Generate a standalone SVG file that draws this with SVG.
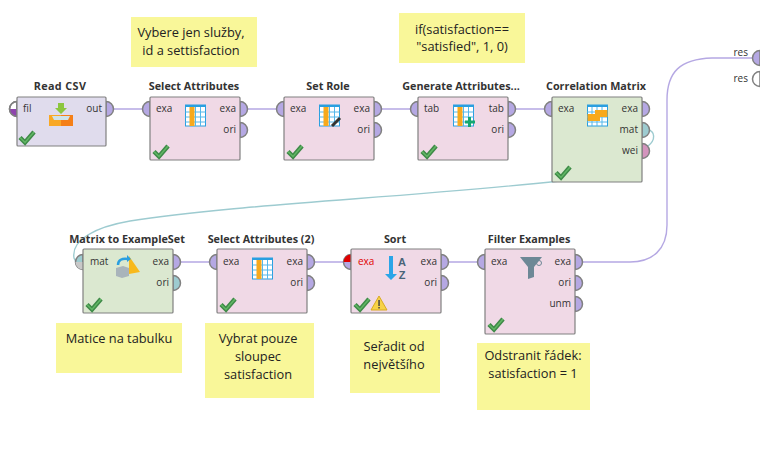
<svg xmlns="http://www.w3.org/2000/svg" width="760" height="452" viewBox="0 0 760 452">
<style>
text{font-family:"Open Sans","Noto Sans","Liberation Sans",sans-serif}
.t{font-size:10.800px;font-weight:700;fill:#333;text-anchor:middle}
.p{font-size:10px;fill:#333}
.r{text-anchor:end}
.n{font-size:12.800px;fill:#222;text-anchor:middle}
.az{font-family:"Liberation Sans",sans-serif;font-size:11px;font-weight:700;fill:#4a6478;text-anchor:middle}
.note{fill:#f9f799}
.pink{fill:#f0d9e6;stroke:#808080;stroke-width:1.2}
.green{fill:#dbe8d0;stroke:#808080;stroke-width:1.2}
.lav{fill:#e0dced;stroke:#808080;stroke-width:1.2}
.po{stroke:#808080;stroke-width:1.5}
.a{fill:#b5a8e3}.b{fill:#9dcbd0}.c{fill:#d394bd}
.l{fill:none;stroke-width:1.4}
.la{stroke:#b5a8e3}.lb{stroke:#9dcbd0}
.ck{fill:none;stroke-linejoin:miter}
</style>
<defs>
<g id="check"><path class="ck" stroke="#3f8a48" stroke-width="4.500" d="M1 7.500 L6 12.500 L15 2"/><path class="ck" stroke="#62b765" stroke-width="1.500" d="M1 7.500 L6 12.500 L15 2"/></g>
<g id="tbl"><rect width="20" height="21" fill="#fff" stroke="#2a9fe0"/><rect width="20" height="2" fill="#2a9fe0"/><path d="M5 2V21M10 2V21M15 2V21M0 7H20M0 12H20M0 17H20" stroke="#55b7ea" stroke-width="1"/><rect x="4" y="2" width="5" height="19" fill="#f8a91c"/></g>
<path id="pr" d="M0 -7.500A7.500 7.500 0 0 1 0 7.500Z"/>
<path id="pl" d="M0 -7.500A7.500 7.500 0 0 0 0 7.500Z"/>
</defs>
<g id="connectors">
<path class="l la" d="M114 109H143M248 109H277M382 109H411M516 109H545M181 262H210M315 262H344M449 262H478"/>
<path class="l la" d="M582 262H630C652 262 667 250 667 225V100C667 72 680 59 712 58L752 58"/>
<path class="l lb" d="M648 130C655 131 656 140 648 146"/>
<path class="l lb" d="M560 181C400 198 230 205 130 221C95 227 71 240 74 258L76 262"/>
</g>
<g id="note1"><rect class="note" x="131" y="17" width="126" height="50"/><text class="n" x="191" y="37">Vybere jen služby,</text><text class="n" x="191" y="55">id a settisfaction</text></g>
<g id="note2"><rect class="note" x="399" y="13" width="126" height="50"/><text class="n" x="462" y="34">if(satisfaction==</text><text class="n" x="462" y="51">"satisfied", 1, 0)</text></g>
<g id="note3"><rect class="note" x="56" y="323" width="126" height="50"/><text class="n" x="119" y="343">Matice na tabulku</text></g>
<g id="note4"><rect class="note" x="205" y="323" width="109" height="75"/><text class="n" x="258" y="343">Vybrat pouze</text><text class="n" x="258" y="361">sloupec</text><text class="n" x="258" y="379">satisfaction</text></g>
<g id="note5"><rect class="note" x="350" y="330" width="90" height="63"/><text class="n" x="394" y="351">Seřadit od</text><text class="n" x="394" y="369">největšího</text></g>
<g id="note6"><rect class="note" x="477" y="343" width="113" height="67"/><text class="n" x="533" y="360">Odstranit řádek:</text><text class="n" x="533" y="378">satisfaction = 1</text></g>

<g id="read-csv">
<use href="#pl" x="17" y="109" class="po" fill="#fff"/><path d="M9.500 109A7.500 7.500 0 0 0 17 116.500V109Z" fill="#8e44ad"/><use href="#pl" x="17" y="109" class="po" fill="none"/>
<use href="#pr" x="106" y="109" class="po a"/>
<rect class="lav" x="17" y="97" width="89" height="49" rx="1"/>
<text class="t" x="60" y="90" style="letter-spacing:.4px">Read CSV</text><text class="p" x="23" y="112">fil</text><text class="p r" x="102" y="112">out</text>
<path d="M58 103H64V108H67L61 114L55 108H58Z" fill="#8cc63f"/><path d="M49 115H73V126H49Z" fill="#f9a825"/><rect x="61" y="115" width="12" height="11" fill="#f57f17"/><path d="M52 116H70L68 120H54Z" fill="#cfe3ea"/>
<use href="#check" x="19" y="130"/>
</g>
<g id="select-attributes">
<use href="#pl" x="150" y="109" class="po a"/><use href="#pr" x="240" y="109" class="po a"/><use href="#pr" x="240" y="130" class="po a"/>
<rect class="pink" x="150" y="97" width="90" height="63" rx="1"/>
<text class="t" x="194" y="90">Select Attributes</text><text class="p" x="156" y="112">exa</text><text class="p r" x="236" y="112">exa</text><text class="p r" x="236" y="133">ori</text>
<use href="#tbl" x="185.500" y="105"/><use href="#check" x="153" y="144"/>
</g>
<g id="set-role">
<use href="#pl" x="284" y="109" class="po a"/><use href="#pr" x="374" y="109" class="po a"/><use href="#pr" x="374" y="130" class="po a"/>
<rect class="pink" x="284" y="97" width="90" height="63" rx="1"/>
<text class="t" x="328" y="90">Set Role</text><text class="p" x="290" y="112">exa</text><text class="p r" x="370" y="112">exa</text><text class="p r" x="370" y="133">ori</text>
<use href="#tbl" x="319.500" y="105"/><path d="M332 126L340 118" stroke="#333" stroke-width="3"/><use href="#check" x="287" y="144"/>
</g>
<g id="generate-attributes">
<use href="#pl" x="418" y="109" class="po a"/><use href="#pr" x="508" y="109" class="po a"/><use href="#pr" x="508" y="130" class="po a"/>
<rect class="pink" x="418" y="97" width="90" height="63" rx="1"/>
<text class="t" x="461" y="90">Generate Attributes...</text><text class="p" x="424" y="112">tab</text><text class="p r" x="504" y="112">tab</text><text class="p r" x="504" y="133">ori</text>
<use href="#tbl" x="453.500" y="105"/><path d="M469.500 117V127M465 122H475" stroke="#16a870" stroke-width="3"/><use href="#check" x="421" y="144"/>
</g>
<g id="correlation-matrix">
<use href="#pl" x="552" y="109" class="po a"/><use href="#pr" x="642" y="109" class="po a"/><use href="#pr" x="642" y="130" class="po b"/><use href="#pr" x="642" y="151" class="po c"/>
<rect class="green" x="552" y="97" width="90" height="85" rx="1"/>
<text class="t" x="596" y="90">Correlation Matrix</text><text class="p" x="558" y="112">exa</text><text class="p r" x="638" y="112">exa</text><text class="p r" x="638" y="133">mat</text><text class="p r" x="638" y="154">wei</text>
<rect x="587.500" y="105" width="20" height="21" fill="#fff" stroke="#2a9fe0"/><rect x="587.500" y="105" width="20" height="2" fill="#2a9fe0"/><path d="M592 107V126M597 107V126M602 107V126M587 112H607M587 117H607M587 122H607" stroke="#55b7ea"/><path d="M587.500 121V114H595V110H607.500V117H600V121Z" fill="#f8a91c"/>
<use href="#check" x="555" y="165"/>
</g>
<g id="matrix-to-exampleset">
<use href="#pl" x="83" y="262" class="po b"/><path d="M75.500 262A7.500 7.500 0 0 0 83 269.500V262Z" fill="#c8c8c8"/><use href="#pr" x="173" y="262" class="po a"/><use href="#pr" x="173" y="283" class="po b"/>
<rect class="green" x="83" y="249" width="90" height="64" rx="1"/>
<text class="t" x="127" y="243">Matrix to ExampleSet</text><text class="p" x="90" y="265">mat</text><text class="p r" x="169" y="265">exa</text><text class="p r" x="169" y="286">ori</text>
<path d="M129 256L140 272L129 274Z" fill="#f8b91c"/><path d="M116 268L123 266L129 268V276L122 278L116 276Z" fill="#a9b4bb"/><path d="M118 265C118 260 122 258 128 259" fill="none" stroke="#2a9fe0" stroke-width="2.500"/><path d="M127 255L131 259L127 262Z" fill="#2a9fe0"/>
<use href="#check" x="86" y="297"/>
</g>
<g id="select-attributes-2">
<use href="#pl" x="217" y="262" class="po a"/><use href="#pr" x="307" y="262" class="po a"/><use href="#pr" x="307" y="283" class="po a"/>
<rect class="pink" x="217" y="249" width="90" height="64" rx="1"/>
<text class="t" x="261" y="243">Select Attributes (2)</text><text class="p" x="223" y="265">exa</text><text class="p r" x="303" y="265">exa</text><text class="p r" x="303" y="286">ori</text>
<use href="#tbl" x="252.500" y="258"/><use href="#check" x="220" y="297"/>
</g>
<g id="sort">
<use href="#pl" x="351" y="262" class="po a"/><path d="M343.500 262A7.500 7.500 0 0 1 351 254.500V262Z" fill="#e00000"/><use href="#pr" x="441" y="262" class="po a"/><use href="#pr" x="441" y="283" class="po a"/>
<rect class="pink" x="351" y="249" width="90" height="64" rx="1"/>
<text class="t" x="395" y="243">Sort</text><text class="p" x="358" y="265" style="fill:#e00000">exa</text><text class="p r" x="437" y="265">exa</text><text class="p r" x="437" y="286">ori</text>
<path d="M389 256H393V274H397L391 280L385 274H389Z" fill="#2aa5e8"/><text class="az" x="402" y="266">A</text><text class="az" x="402" y="279">Z</text>
<use href="#check" x="354" y="297"/><path d="M379 296L387 310H371Z" fill="#f7d247" stroke="#d9aa20"/><rect x="378.300" y="300" width="1.500" height="6" fill="#444"/><rect x="378.300" y="307" width="1.500" height="1.500" fill="#444"/>
</g>
<g id="filter-examples">
<use href="#pl" x="485" y="262" class="po a"/><use href="#pr" x="575" y="262" class="po a"/><use href="#pr" x="575" y="283" class="po a"/><use href="#pr" x="575" y="304" class="po a"/>
<rect class="pink" x="485" y="249" width="90" height="85" rx="1"/>
<text class="t" x="529" y="243">Filter Examples</text><text class="p" x="491" y="265">exa</text><text class="p r" x="571" y="265">exa</text><text class="p r" x="571" y="286">ori</text><text class="p r" x="571" y="307">unm</text>
<path d="M520 257H542L534 267V277L528 279V267Z" fill="#6d8896"/><circle cx="539" cy="263" r="2.500" fill="none" stroke="#6d8896"/><use href="#check" x="488" y="317"/>
</g>
<g id="results">
<use href="#pl" x="760" y="58" class="po a"/><use href="#pl" x="760" y="79" class="po" fill="#fff"/>
<text class="p r" x="748" y="56">res</text><text class="p r" x="748" y="82">res</text>
</g>
</svg>
